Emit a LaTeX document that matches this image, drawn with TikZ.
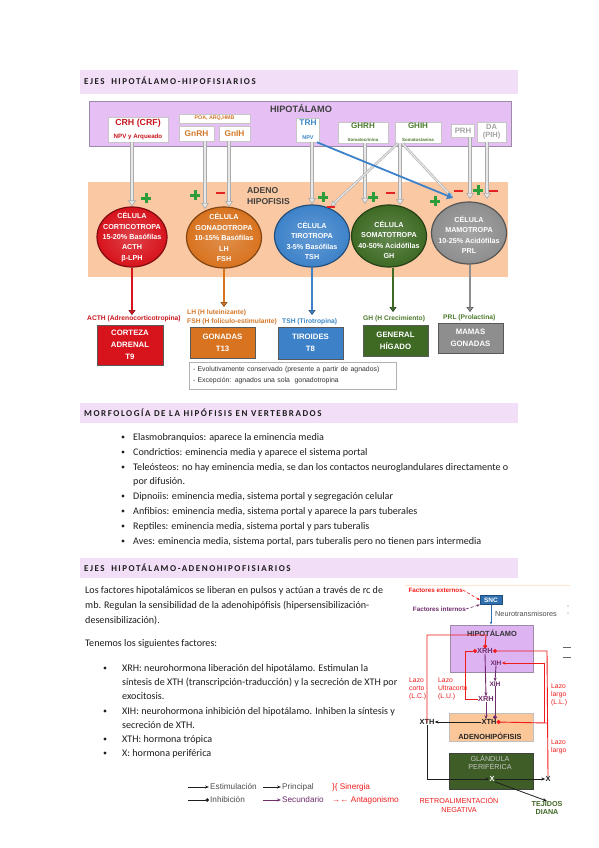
\documentclass[tikz,border=0pt]{standalone}
\usepackage{fontspec}
\setmainfont{Carlito}
\newfontfamily\arial{Liberation Sans}
\newfontfamily\capsfont[LetterSpace=17]{Carlito}
\usetikzlibrary{arrows.meta,positioning,shapes.geometric,shadows}
\definecolor{band}{HTML}{F3DEF8}
\definecolor{hypofill}{HTML}{E6C0F4}
\definecolor{hypoedge}{HTML}{9C8BA6}
\definecolor{adenofill}{HTML}{FAC9A3}
\definecolor{plusgreen}{HTML}{2E9E3A}
\definecolor{minusred}{HTML}{E32222}
\definecolor{cellred}{HTML}{D7131C}
\definecolor{cellorange}{HTML}{D8731F}
\definecolor{cellblue}{HTML}{3D82C9}
\definecolor{cellgreen}{HTML}{3E6A24}
\definecolor{cellgray}{HTML}{8E8E8E}
\definecolor{txtred}{HTML}{C8161D}
\definecolor{txtorange}{HTML}{D4782A}
\definecolor{txtblue}{HTML}{3B86C6}
\definecolor{txtgreen}{HTML}{4C7A2C}
\definecolor{txtgray}{HTML}{A3A3A3}
\definecolor{ink}{HTML}{1E1E1E}
\definecolor{loopred}{HTML}{F01C1C}
\definecolor{loopviolet}{HTML}{6F2C6C}
\definecolor{rhypo}{HTML}{DDB3F1}
\definecolor{radeno}{HTML}{FBC799}
\definecolor{rgland}{HTML}{3F5E27}
\definecolor{sncblue}{HTML}{2F6FAF}

\begin{document}
\begin{tikzpicture}[
    x=1pt, y=-1pt,
    every node/.style={inner sep=0pt},
    headtxt/.style={font=\capsfont\bfseries\fontsize{9}{10}\selectfont, anchor=base west, text=ink},
    body/.style={font=\fontsize{10.1}{12}\selectfont, anchor=base west, text=ink},
    bulletdot/.style={circle, fill=ink, minimum size=3.2pt},
    hbox/.style={fill=white, draw=gray!45, line width=0.5pt, align=center, font=\arial\bfseries,
      drop shadow={shadow xshift=0.9pt, shadow yshift=-0.9pt, fill=gray!70, opacity=0.6}},
    cell/.style={ellipse, draw=#1!60!black, line width=1.2pt, inner color=#1!80!white, outer color=#1},
    celltxt/.style={text=white, align=center, font=\arial\bfseries\fontsize{7.2}{10.4}\selectfont},
    pipe/.style={draw=gray!65, double=gray!18, double distance=2.2pt, line width=0.7pt,
      -{Triangle[length=6pt, width=8pt, fill=gray!18]}},
    thinpipe/.style={draw=gray!65, double=gray!18, double distance=1.2pt, line width=0.6pt,
      -{Triangle[length=5pt, width=6pt, fill=gray!18]}},
    outpipe/.style={draw=#1!55!black, double=#1, double distance=1.6pt, line width=0.5pt,
      -{Triangle[length=5pt, width=7pt, fill=#1]}},
    target/.style={fill=#1, draw=black!65, line width=1pt, text=white, align=center,
      font=\arial\bfseries\fontsize{7.8}{12.3}\selectfont,
      drop shadow={shadow xshift=1pt, shadow yshift=-1pt, fill=gray!80, opacity=0.6}},
    hormtxt/.style={font=\arial\bfseries\fontsize{6.7}{8.8}\selectfont, align=left, anchor=west},
    plusmark/.style={draw=plusgreen, line width=3pt},
    minusmark/.style={draw=minusred, line width=2.6pt},
    rtxt/.style={font=\arial\bfseries\fontsize{7.4}{9}\selectfont},
    looptxt/.style={font=\arial\fontsize{6.8}{8}\selectfont, text=loopred, align=left, anchor=north west},
    redline/.style={draw=loopred, line width=0.9pt},
    violine/.style={draw=loopviolet, line width=0.9pt},
    blkarrow/.style={draw=ink, line width=0.8pt, -{Stealth[length=4pt]}},
    legtxt/.style={font=\arial\fontsize{8.2}{9}\selectfont, text=black!70, anchor=west},
  ]
  \useasboundingbox (0,0) rectangle (599,848);
  \fill[white] (0,0) rectangle (599,848);

  % section headers
  \fill[band] (80,70) rectangle (518,94);
  \node[headtxt] (head1) at (84,84.5) {EJES\hspace{3pt} HIPOTÁLAMO-HIPOFISIARIOS};
  \fill[band] (80,403) rectangle (518,423);
  \node[headtxt] (head2) at (84,416) {MORFOLOGÍA DE LA HIPÓFISIS EN VERTEBRADOS};
  \fill[band] (80,558) rectangle (518,578);
  \node[headtxt] (head3) at (84,571) {EJES\hspace{3pt} HIPOTÁLAMO-ADENOHIPOFISIARIOS};

  % hipotalamo
  \node[fill=hypofill, draw=hypoedge, line width=0.8pt, minimum width=422, minimum height=45,
    anchor=north west, drop shadow={shadow xshift=1pt, shadow yshift=-1pt, fill=gray!60}] (hipo) at (89,101) {};
  \node[font=\arial\bfseries\fontsize{9.2}{10}\selectfont, text=black!75] (hipotitle) at (301,108) {HIPOTÁLAMO};

  \node[hbox, text=txtred, minimum width=60, minimum height=25] (crh) at (138,129.5)
    {{\fontsize{8.8}{10}\selectfont CRH (CRF)}\\[1pt]{\fontsize{6.2}{7}\selectfont NPV y Arqueado}};
  \node[hbox, text=txtorange, minimum width=71, minimum height=9, font=\arial\bfseries\fontsize{5.3}{6}\selectfont] (poa) at (214.5,118.5) {POA, ARQ,HMB};
  \node[hbox, text=txtorange, minimum width=35, minimum height=15, font=\arial\bfseries\fontsize{8.3}{9}\selectfont] (gnrh) at (196.5,133.5) {GnRH};
  \node[hbox, text=txtorange, minimum width=31, minimum height=15, font=\arial\bfseries\fontsize{8.3}{9}\selectfont] (gnih) at (234.5,133.5) {GnIH};
  \node[hbox, text=txtblue, minimum width=23, minimum height=24] (trh) at (308,130)
    {{\fontsize{8.3}{9}\selectfont TRH}\\[2pt]{\fontsize{5.5}{6}\selectfont NPV}};
  \node[hbox, text=txtgreen, minimum width=50, minimum height=21] (ghrh) at (363,132.5)
    {{\fontsize{8}{9}\selectfont GHRH}\\[1pt]{\fontsize{4.4}{5}\selectfont Somatocrinina}};
  \node[hbox, text=txtgreen, minimum width=46, minimum height=21] (ghih) at (418,132.5)
    {{\fontsize{8}{9}\selectfont GHIH}\\[1pt]{\fontsize{4.4}{5}\selectfont Somatostanina}};
  \node[hbox, text=txtgray, minimum width=23, minimum height=13, font=\arial\bfseries\fontsize{7.8}{8}\selectfont] (prh) at (463,130.5) {PRH};
  \node[hbox, text=txtgray, minimum width=29, minimum height=20, font=\arial\bfseries\fontsize{7.5}{8}\selectfont] (da) at (491.5,132) {DA\\(PIH)};

  % adenohipofisis
  \node[fill=adenofill, minimum width=420, minimum height=95, anchor=north west] (adeno) at (88,182) {};
  \node[font=\arial\bfseries\fontsize{8.6}{11}\selectfont, text=black!75, align=left, anchor=north west] (adenotitle) at (247,187) {ADENO\\HIPOFISIS};

  \node[cell=cellred, minimum width=70, minimum height=60] (cort) at (132,237) {};
  \node[cell=cellorange, minimum width=75, minimum height=61] (gona) at (224,237.5) {};
  \node[cell=cellblue, minimum width=75, minimum height=62] (tiro) at (312,236) {};
  \node[cell=cellgreen, minimum width=75, minimum height=62] (soma) at (389,236) {};
  \node[cell=cellgray, minimum width=75, minimum height=62] (mamo) at (469,233) {};

  \coordinate (pGnRH) at (205,209);
  \coordinate (pGnIH) at (229,207);
  \coordinate (pTRH) at (312,204);
  \coordinate (pGHRH) at (365,204);
  \coordinate (pGHIH) at (400,205);
  \coordinate (pPRH) at (470,199);
  \coordinate (pDA) at (487,199);
  \coordinate (pTiroSide) at (331,206);
  \coordinate (pMamoSide) at (453,198);

  \draw[pipe] (crh.south -| cort.north) -- (cort.north);
  \draw[pipe] (gnrh.south -| pGnRH) -- (pGnRH);
  \draw[pipe] (gnih.south -| pGnIH) -- (pGnIH);
  \draw[pipe] (trh.south -| pTRH) -- (pTRH);
  \draw[pipe] (ghrh.south -| pGHRH) -- (pGHRH);
  \draw[pipe] (ghih.south -| pGHIH) -- (pGHIH);
  \draw[pipe] (prh.south -| pPRH) -- (pPRH);
  \draw[pipe] (da.south -| pDA) -- (pDA);
  \draw[thinpipe] ([xshift=-20pt]ghih.south) -- (pTiroSide);
  \draw[thinpipe] ([xshift=-16pt]ghih.south) -- (pMamoSide);
  \draw[draw=cellblue, line width=1.8pt, -{Triangle[length=6pt, width=7pt]}] ([xshift=9pt]trh.south) -- (pMamoSide);

  \node[celltxt] (corttxt) at (cort) {CÉLULA\\CORTICOTROPA\\15-20\% Basófilas\\ACTH\\β-LPH};
  \node[celltxt] (gonatxt) at (gona) {CÉLULA\\GONADOTROPA\\10-15\% Basófilas\\LH\\FSH};
  \node[celltxt] (tirotxt) at ([yshift=-5pt]tiro.center) {CÉLULA\\TIROTROPA\\3-5\% Basófilas\\TSH};
  \node[celltxt] (somatxt) at ([yshift=-4pt]soma.center) {CÉLULA\\SOMATOTROPA\\40-50\% Acidófilas\\GH};
  \node[celltxt] (mamotxt) at ([yshift=-2pt]mamo.center) {CÉLULA\\MAMOTROPA\\10-25\% Acidófilas\\PRL};

  \foreach \px/\py in {146/198, 195/195, 323/197, 373/197, 435/201, 478/190}
    \draw[plusmark] (\px-5,\py) -- (\px+5,\py) (\px,\py-5) -- (\px,\py+5);
  \foreach \px/\py in {220/193, 390/193, 458/191, 493/191}
    \draw[minusmark] (\px-4.5,\py) -- (\px+4.5,\py);
  \draw[minusmark, line width=2pt] (327,207) -- (335,207);

  % hormonas y dianas
  \coordinate (eCort) at (132,315);
  \coordinate (eGona) at (224,307);
  \coordinate (eTiro) at (312,315);
  \coordinate (eSoma) at (393,312);
  \coordinate (eMamo) at (470,312);
  \draw[outpipe=cellred] (cort.south) -- (eCort);
  \draw[outpipe=cellorange] (gona.south) -- (eGona);
  \draw[outpipe=cellblue] (tiro.south) -- (eTiro);
  \draw[outpipe=cellgreen] (soma.south -| eSoma) -- (eSoma);
  \draw[outpipe=cellgray] (mamo.south -| eMamo) -- (eMamo);

  \node[hormtxt, text=txtred] (acth) at (87,319) {ACTH (Adrenocorticotropina)};
  \node[hormtxt, text=txtorange] (lhfsh) at (187,317.5) {LH (H luteinizante)\\FSH (H folículo-estimulante)};
  \node[hormtxt, text=txtblue] (tsh) at (282,322) {TSH (Tirotropina)};
  \node[hormtxt, text=txtgreen] (gh) at (363,319) {GH (H Crecimiento)};
  \node[hormtxt, text=txtgreen] (prl) at (443,318) {PRL (Prolactina)};

  \node[target=cellred, minimum width=66, minimum height=40] (cortbox) at (130,345) {CORTEZA\\ADRENAL\\T9};
  \node[target=cellorange, minimum width=65, minimum height=31] (gonbox) at (222.5,342.5) {GONADAS\\T13};
  \node[target=cellblue, minimum width=65, minimum height=32] (tirbox) at (310.5,343) {TIROIDES\\T8};
  \node[target=cellgreen, minimum width=65, minimum height=31] (genbox) at (395.5,340.5) {GENERAL\\HÍGADO};
  \node[target=cellgray, minimum width=65, minimum height=30] (mambox) at (470.5,338) {MAMAS\\GONADAS};

  \node[draw=gray!60, line width=0.8pt, fill=white, minimum width=207, minimum height=27, inner xsep=4pt,
    align=left, text width=199, font=\arial\fontsize{6.9}{11}\selectfont, text=black!80] (nota) at (292.5,375.5)
    {- Evolutivamente conservado (presente a partir de agnados)\\- Excepción: agnados una sola\ \ gonadotropina};

  % morfologia
  \foreach \yy/\txt [count=\i] in {440/{Elasmobranquios: aparece la eminencia media},
      455/{Condrictios: eminencia media y aparece el sistema portal},
      470/{Teleósteos: no hay eminencia media, se dan los contactos neuroglandulares directamente o},
      499/{Dipnoiis: eminencia media, sistema portal y segregación celular},
      514/{Anfibios: eminencia media, sistema portal y aparece la pars tuberales},
      529/{Reptiles: eminencia media, sistema portal y pars tuberalis},
      544/{Aves: eminencia media, sistema portal, pars tuberalis pero no tienen pars intermedia}}{
    \node[bulletdot] (mdot\i) at (123,\yy-3) {};
    \node[body] (mline\i) at (133,\yy) {\txt};
  }
  \node[body] (mline3b) at (133,484) {por difusión.};

  % ejes adenohipofisiarios
  \node[body] (para1) at (85,593) {Los factores hipotalámicos se liberan en pulsos y actúan a través de rc de};
  \node[body] (para2) at (85,608) {mb. Regulan la sensibilidad de la adenohipófisis (hipersensibilización-};
  \node[body] (para3) at (85,623) {desensibilización).};
  \node[body] (para4) at (85,646) {Tenemos los siguientes factores:};
  \foreach \yy/\txt [count=\i] in {671/{XRH: neurohormona liberación del hipotálamo. Estimulan la},
      685/{síntesis de XTH (transcripción-traducción) y la secreción de XTH por},
      699/{exocitosis.},
      714/{XIH: neurohormona inhibición del hipotálamo. Inhiben la síntesis y},
      728/{secreción de XTH.},
      742/{XTH: hormona trópica},
      756/{X: hormona periférica}}
    \node[body] (fline\i) at (122,\yy) {\txt};
  \foreach \yy [count=\i] in {671,714,742,756}
    \node[bulletdot] (fdot\i) at (105,\yy-3) {};

  % esquema derecho
  \draw[orange!20, line width=0.6pt] (405,585) -- (570,585);
  \node[font=\arial\bfseries\fontsize{6.3}{7}\selectfont, text=loopred, anchor=east] (fext) at (463,590) {Factores externos};
  \node[font=\arial\bfseries\fontsize{6.3}{7}\selectfont, text=loopviolet, anchor=east] (fint) at (466,609) {Factores internos};
  \node[fill=sncblue, draw=sncblue!70!black, minimum width=22, minimum height=9, text=white,
    font=\arial\bfseries\fontsize{6.5}{7}\selectfont] (snc) at (491,600) {SNC};
  \draw[loopred, densely dashed, line width=0.6pt, -{Stealth[length=3pt]}] (fext.east) -- (snc.west);
  \draw[loopviolet, densely dashed, line width=0.6pt, -{Stealth[length=3pt]}] (fint.east) -- (snc.south west);
  \node[fill=rhypo, draw=hypoedge, line width=0.8pt, minimum width=83, minimum height=47,
    drop shadow={shadow xshift=1pt, shadow yshift=-1pt, fill=gray!60}] (rhipo) at (491.5,648.5) {};
  \draw[sncblue, line width=0.7pt, -{Stealth[length=3pt]}] (snc.south) -- (snc.south |- rhipo.north);
  \node[font=\arial\fontsize{7.3}{8}\selectfont, text=black!70, anchor=west] (neuro) at (495,614) {Neurotransmisores};
  \node[rtxt, text=black!80] (rhipotitle) at (492,633) {HIPOTÁLAMO};
  \node[rtxt, text=loopviolet] (xrhA) at (485,651) {XRH};
  \node[rtxt, text=loopviolet, font=\arial\bfseries\fontsize{6.6}{7}\selectfont] (xihA) at (496,663) {XIH};
  \node[rtxt, text=loopviolet, font=\arial\bfseries\fontsize{6.6}{7}\selectfont] (xihB) at (495,684) {XIH};
  \node[rtxt, text=loopviolet] (xrhB) at (486,699) {XRH};

  \node[fill=radeno, draw=gray!50, line width=0.6pt, minimum width=84, minimum height=28,
    drop shadow={shadow xshift=1pt, shadow yshift=-1pt, fill=gray!60}] (radeno) at (491,727) {};
  \node[rtxt, text=ink] (xth) at (489,722) {XTH};
  \node[rtxt, text=black!85] (radenotitle) at (490,736) {ADENOHIPÓFISIS};
  \node[rtxt, text=ink] (xthout) at (427,722) {XTH};

  \node[fill=rgland, draw=black!75, line width=1pt, minimum width=84, minimum height=36] (rgland) at (491,771) {};
  \node[font=\arial\fontsize{7.2}{8.5}\selectfont, text=gray!45, align=center] (glandtitle) at (490,762.5) {GLÁNDULA\\PERIFÉRICA};
  \node[rtxt, text=white] (xper) at (492,779) {X};
  \node[rtxt, text=ink] (xout) at (548,779) {X};
  \node[font=\arial\bfseries\fontsize{7.2}{8.5}\selectfont, text=txtgreen!85!black, align=center] (tejidos) at (547,808) {TEJIDOS\\DIANA};
  \node[font=\arial\fontsize{7.2}{9}\selectfont, text=loopred, align=center] (retro) at (459,805) {RETROALIMENTACIÓN\\NEGATIVA};

  \draw[blkarrow] (xth.west) -- (xthout.east);
  \draw[blkarrow] (xthout.south) |- (xper.west);
  \draw[blkarrow] (xper.east) -- (xout.west);
  \draw[blkarrow] (xper.south east) -- (tejidos.north);

  \coordinate (lcTop) at (486,635);
  \coordinate (luCorner) at (465,651);
  \coordinate (llTop) at (547,651);
  \coordinate (llJoin) at (547,723);
  \coordinate (llMid) at (544,723);
  \draw[redline, -{Circle[length=4pt]}] ([yshift=-3pt]xthout.north) |- (lcTop) -- (xrhA.north);
  \draw[redline, -{Circle[length=4pt]}] (xrhB.west) -| (luCorner) -- (xrhA.west);
  \draw[redline, -{Circle[length=4pt]}] (xout.north) -- (llTop) -- (xrhA.east);
  \draw[redline, {Circle[length=4pt]}-] (xth.east) -- (llJoin);
  \draw[redline, -{Stealth[length=4pt]}] (llMid) |- (xihA.east);

  \draw[violine, -{Stealth[length=4pt]}] (xrhA.south) -- (xrhB.north);
  \draw[violine, -{Stealth[length=4pt]}] (xihA.south) -- (xihB.north);
  \draw[violine, -{Circle[length=4pt]}] (xihB.south) -- (xihB.south |- xth.north);
  \draw[violine, -{Stealth[length=4pt]}] (xrhB.south) -- (xrhB.south |- xth.north);

  \node[looptxt] (lcorto) at (409,678) {Lazo\\corto\\(L.C.)};
  \node[looptxt] (lultra) at (438,678) {Lazo\\Ultracorto\\(L.U.)};
  \node[looptxt] (llargoA) at (551,684) {Lazo\\largo\\(L.L.)};
  \node[looptxt] (llargoB) at (551,740) {Lazo\\largo};

  \draw[black!60, line width=0.8pt] (563,647) -- (571,647) (563,657) -- (571,657);
  \fill[black!50] (568,606) circle (0.7) (568,613) circle (0.7);

  % leyenda
  \node[legtxt] (estim) at (210,787) {Estimulación};
  \node[legtxt] (inhib) at (210,800) {Inhibición};
  \node[legtxt] (princ) at (282,787) {Principal};
  \node[legtxt, text=loopviolet] (secund) at (282,800) {Secundario};
  \node[legtxt, text=loopred] (siner) at (332,787) {\}\{ Sinergia};
  \node[legtxt, text=loopred] (antag) at (332,800) {→← Antagonismo};
  \draw[ink, line width=0.8pt, -{Stealth[length=4pt]}] ([xshift=-22pt]estim.west) -- ([xshift=-1pt]estim.west);
  \draw[ink, line width=0.8pt, -{Circle[length=3.5pt]}] ([xshift=-22pt]inhib.west) -- ([xshift=-1pt]inhib.west);
  \draw[ink, line width=0.8pt, -{Stealth[length=4pt]}] ([xshift=-19pt]princ.west) -- ([xshift=-1pt]princ.west);
  \draw[loopviolet, line width=0.8pt, -{Stealth[length=4pt]}] ([xshift=-19pt]secund.west) -- ([xshift=-1pt]secund.west);
\end{tikzpicture}
\end{document}
